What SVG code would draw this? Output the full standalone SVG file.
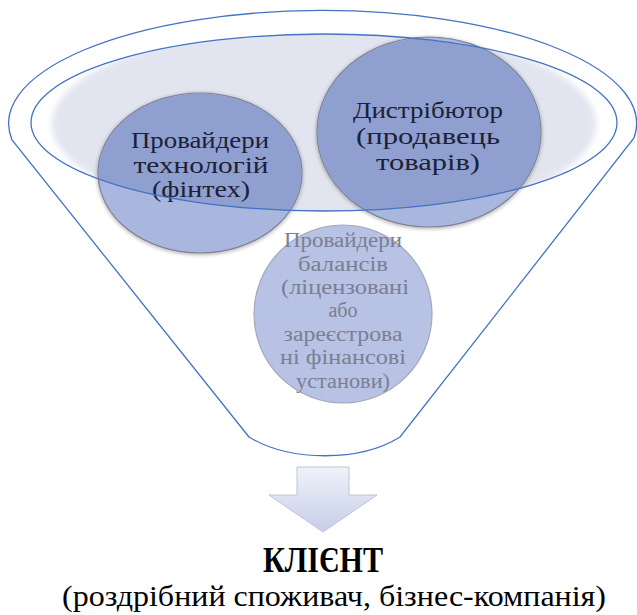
<svg xmlns="http://www.w3.org/2000/svg" width="637" height="615" viewBox="0 0 637 615">
  <style>
    .line { fill: none; stroke: #4472c4; stroke-width: 1.3; }
    .serif { font-family: "Liberation Serif", "Times New Roman", Tinos, "DejaVu Serif", "Noto Serif", serif; }
    .ctext { fill: #1c2134; text-anchor: middle; }
    .btext { fill: #7a7f92; text-anchor: middle; }
    .bigc { stroke: #7d8294; stroke-width: 1.2; }
  </style>
  <defs>
    <clipPath id="innerClip">
      <ellipse cx="324" cy="122.5" rx="293" ry="88.5"/>
    </clipPath>
    <filter id="soft" x="-10%" y="-10%" width="120%" height="120%">
      <feGaussianBlur stdDeviation="3"/>
    </filter>
    <filter id="shadow" x="-10%" y="-10%" width="120%" height="120%">
      <feGaussianBlur in="SourceAlpha" stdDeviation="2"/>
      <feOffset dx="0" dy="1"/>
      <feComponentTransfer><feFuncA type="linear" slope="0.35"/></feComponentTransfer>
      <feMerge><feMergeNode/><feMergeNode in="SourceGraphic"/></feMerge>
    </filter>
    <linearGradient id="arrowGrad" x1="0" y1="0" x2="0" y2="1">
      <stop offset="0" stop-color="#f0f2f9"/>
      <stop offset="1" stop-color="#c6cee9"/>
    </linearGradient>
  </defs>

  <g id="funnel">
    <g clip-path="url(#innerClip)">
      <ellipse cx="324" cy="124" rx="272" ry="98" fill="#e2e4ef" filter="url(#soft)"/>
    </g>
  </g>

  <g id="node-tech" class="serif">
    <ellipse class="bigc" cx="200" cy="173" rx="102" ry="80" fill="#a9b6de" filter="url(#shadow)"/>
    <ellipse cx="200" cy="173" rx="101.4" ry="79.4" fill="#8f9fd0" clip-path="url(#innerClip)"/>
    <text class="ctext" font-size="23" x="200" y="148" textLength="138" lengthAdjust="spacingAndGlyphs">Провайдери</text>
    <text class="ctext" font-size="23" x="201" y="173" textLength="135" lengthAdjust="spacingAndGlyphs">технологій</text>
    <text class="ctext" font-size="23" x="201" y="197" textLength="98" lengthAdjust="spacingAndGlyphs">(фінтех)</text>
  </g>

  <g id="node-distributor" class="serif">
    <ellipse class="bigc" cx="429" cy="132" rx="112" ry="95" fill="#a9b6de" filter="url(#shadow)"/>
    <ellipse cx="429" cy="132" rx="111.4" ry="94.4" fill="#8f9fd0" clip-path="url(#innerClip)"/>
    <text class="ctext" font-size="23" x="428" y="118" textLength="150" lengthAdjust="spacingAndGlyphs">Дистрібютор</text>
    <text class="ctext" font-size="23" x="428" y="144" textLength="144" lengthAdjust="spacingAndGlyphs">(продавець</text>
    <text class="ctext" font-size="23" x="428" y="170" textLength="104" lengthAdjust="spacingAndGlyphs">товарів)</text>
  </g>

  <g id="node-balance" class="serif">
    <circle cx="343" cy="314" r="89" fill="#b8c2e4" stroke="#a3a8b8" stroke-width="1.2"/>
    <text class="btext" font-size="20" x="343" y="247" textLength="118" lengthAdjust="spacingAndGlyphs">Провайдери</text>
    <text class="btext" font-size="20" x="343" y="271" textLength="90" lengthAdjust="spacingAndGlyphs">балансів</text>
    <text class="btext" font-size="20" x="345" y="294" textLength="128" lengthAdjust="spacingAndGlyphs">(ліцензовані</text>
    <text class="btext" font-size="20" x="343" y="317">або</text>
    <text class="btext" font-size="20" x="343" y="341" textLength="119" lengthAdjust="spacingAndGlyphs">зареєстрова</text>
    <text class="btext" font-size="20" x="343" y="364" textLength="126" lengthAdjust="spacingAndGlyphs">ні фінансові</text>
    <text class="btext" font-size="20" x="343" y="388" textLength="94" lengthAdjust="spacingAndGlyphs">установи)</text>
  </g>

  <g id="connectors">
    <ellipse class="line" cx="324" cy="122.5" rx="293" ry="88.5"/>
    <path class="line" d="M 249,437 L 12,140 A 314 113 0 1 1 634,138 L 400,437 C 360,462 290,462 249,437 Z"/>
    <path d="M 297,467 L 349,467 L 349,495 L 377,495 L 323,532 L 269,495 L 297,495 Z" fill="url(#arrowGrad)" stroke="#bfc4d4" stroke-width="1"/>
  </g>

  <g id="node-client" class="serif">
    <text font-weight="bold" font-size="36" x="323" y="572" text-anchor="middle" fill="#000" textLength="120" lengthAdjust="spacingAndGlyphs">КЛІЄНТ</text>
    <text font-size="30" x="334" y="606" text-anchor="middle" fill="#000" textLength="544" lengthAdjust="spacingAndGlyphs">(роздрібний споживач, бізнес-компанія)</text>
  </g>
</svg>
